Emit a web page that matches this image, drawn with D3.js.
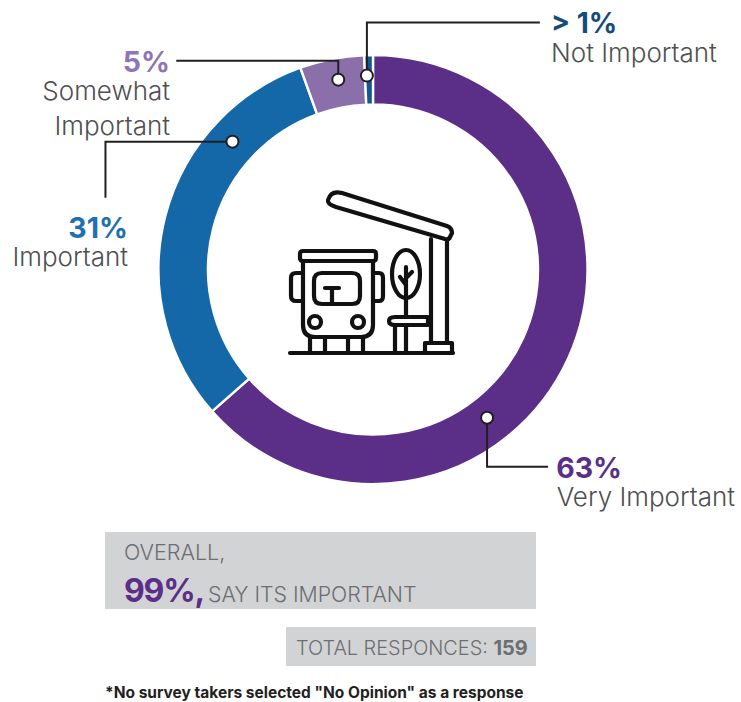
<!DOCTYPE html>
<html lang="en">

<head>
    <meta charset="utf-8">
    <title>Bus stop survey</title>
    <script src="https://d3js.org/d3.v7.min.js"></script>
    <style>
        html, body { margin: 0; padding: 0; background: #fff; }
        svg { display: block; }
        text { font-family: Inter, Lato, sans-serif; }
    </style>
</head>

<body>
    <div id="dataviz"></div>
    <script>
        var categories = ["Very Important", "Important", "Somewhat Important", "Not Important"];
        var sliceValues = [63.5, 31, 4.85, 0.65];
        var percentLabels = ["63%", "31%", "5%", "> 1%"];
        var sliceColors = ["#5b2e87", "#1468a8", "#8a6fab", "#14568f"];
        var labelColors = ["#5b2e87", "#1f6fb2", "#8f75b5", "#174a7c"];

        var width = 741, height = 702;
        var cx = 373, cy = 269.5, outerR = 214.5, innerR = 165;

        var svg = d3.select("#dataviz").append("svg")
            .attr("width", width)
            .attr("height", height);

        var pie = d3.pie().sort(null).value(function (d) { return d; });
        var arc = d3.arc().innerRadius(innerR).outerRadius(outerR);
        var arcs = pie(sliceValues);

        var ring = svg.append("g").attr("transform", "translate(" + cx + "," + cy + ")");
        ring.selectAll("path")
            .data(arcs)
            .enter()
            .append("path")
            .attr("d", arc)
            .attr("fill", function (d, i) { return sliceColors[i]; })
            .attr("stroke", "#fff")
            .attr("stroke-width", 2.4);

        // leader dots: where along the slice, how far out, then the elbow
        var leaders = [
            { frac: 0.623, r: 187, elbow: [[0, 49], [61, 49]] },
            { frac: 0.75, r: 190, elbow: [[-127, 0], [-127, 56]] },
            { frac: 0.54, r: 193, elbow: [[0, -19], [-162, -19]] },
            { frac: 0.23, r: 194, elbow: [[0, -53], [173, -53]] }
        ];

        leaders.forEach(function (l, i) {
            var a = arcs[i].startAngle + l.frac * (arcs[i].endAngle - arcs[i].startAngle);
            var x = cx + l.r * Math.sin(a), y = cy - l.r * Math.cos(a);
            var pts = [[x, y]].concat(l.elbow.map(function (p) { return [x + p[0], y + p[1]]; }));
            svg.append("path")
                .attr("d", d3.line()(pts))
                .attr("fill", "none")
                .attr("stroke", "#231f20")
                .attr("stroke-width", 2);
            svg.append("circle")
                .attr("cx", x).attr("cy", y).attr("r", 6)
                .attr("fill", "#fff")
                .attr("stroke", "#231f20")
                .attr("stroke-width", 2);
        });

        function label(x, y, txt, size, color, weight, anchor) {
            return svg.append("text")
                .attr("x", x).attr("y", y)
                .attr("font-size", size)
                .attr("fill", color)
                .attr("font-weight", weight || 300)
                .attr("text-anchor", anchor || "start")
                .text(txt);
        }

        var grey = "#4f5052";
        label(622, 478, percentLabels[0], 28.5, labelColors[0], 700, "end");
        label(735, 506, categories[0], 26, grey, 300, "end");
        label(128, 238, percentLabels[1], 28.5, labelColors[1], 700, "end");
        label(128, 266, categories[1], 26, grey, 300, "end");
        label(170, 72, percentLabels[2], 28.5, labelColors[2], 700, "end");
        label(170, 100, "Somewhat", 26, grey, 300, "end");
        label(170, 135, "Important", 26, grey, 300, "end");
        label(551, 33, percentLabels[3], 28, labelColors[3], 700);
        label(551, 62, categories[3], 26, grey, 300);

        // bus stop icon
        var icon = svg.append("g")
            .attr("transform", "translate(270,170)")
            .attr("fill", "none")
            .attr("stroke", "#111")
            .attr("stroke-width", 4.2)
            .attr("stroke-linejoin", "round")
            .attr("stroke-linecap", "round");
        [
            "M72,23 L177,56 Q182,58 182,63 L180,67 Q179,70 175,69 L66,37 Q57,34 58,30 Q61,20 72,23 Z",
            "M161,69 V172 M177,70 V172",
            "M155,182 V173 H182 V182",
            "M20,183 H183",
            "M33,81 H103 Q106,81 106,84 V88 Q106,91 103,91 H33 Q30,91 30,88 V84 Q30,81 33,81 Z",
            "M33,91 V155 Q33,167 45,167 H91 Q103,167 103,155 V91",
            "M33,103 H26 Q21,103 21,108 V126 Q21,131 26,131 H33",
            "M103,103 H109 Q113,103 113,108 V126 Q113,131 109,131 H103",
            "M52,103 H82 Q90,103 90,111 V126 Q90,134 82,134 H52 Q44,134 44,126 V111 Q44,103 52,103 Z",
            "M55,118 H69 M62,118 V134",
            "M40,167 V183 M55,167 V183 M78,167 V183 M93,167 V183",
            "M136,147 V97 M136,115 L130,107 M136,108 L142,102",
            "M125,147 H158 V155 H125 Q119,155 119,151 Q119,147 125,147 Z",
            "M125,155 V183 M136,155 V183"
        ].forEach(function (d) {
            icon.append("path").attr("d", d);
        });
        icon.append("ellipse").attr("cx", 136).attr("cy", 104).attr("rx", 14).attr("ry", 24);
        icon.append("circle").attr("cx", 45).attr("cy", 152).attr("r", 6);
        icon.append("circle").attr("cx", 88).attr("cy", 152).attr("r", 6);

        // notes below the ring
        svg.append("rect").attr("x", 105).attr("y", 532).attr("width", 431).attr("height", 77).attr("fill", "#d1d3d4");
        svg.append("rect").attr("x", 286).attr("y", 627).attr("width", 250).attr("height", 39).attr("fill", "#d1d3d4");
        label(124, 560, "OVERALL,", 21.5, "#6d6e71");
        label(124, 602, "99%,", 32, "#5b2e87", 700).attr("letter-spacing", -1.2);
        label(208, 602, "SAY ITS IMPORTANT", 21.3, "#6d6e71");
        var total = label(296, 655, "TOTAL RESPONCES: ", 19.9, "#6d6e71");
        total.append("tspan").attr("font-weight", 700).text("159");
        label(105, 698, "*No survey takers selected \"No Opinion\" as a response", 15.5, "#231f20", 700);
    </script>
</body>

</html>
